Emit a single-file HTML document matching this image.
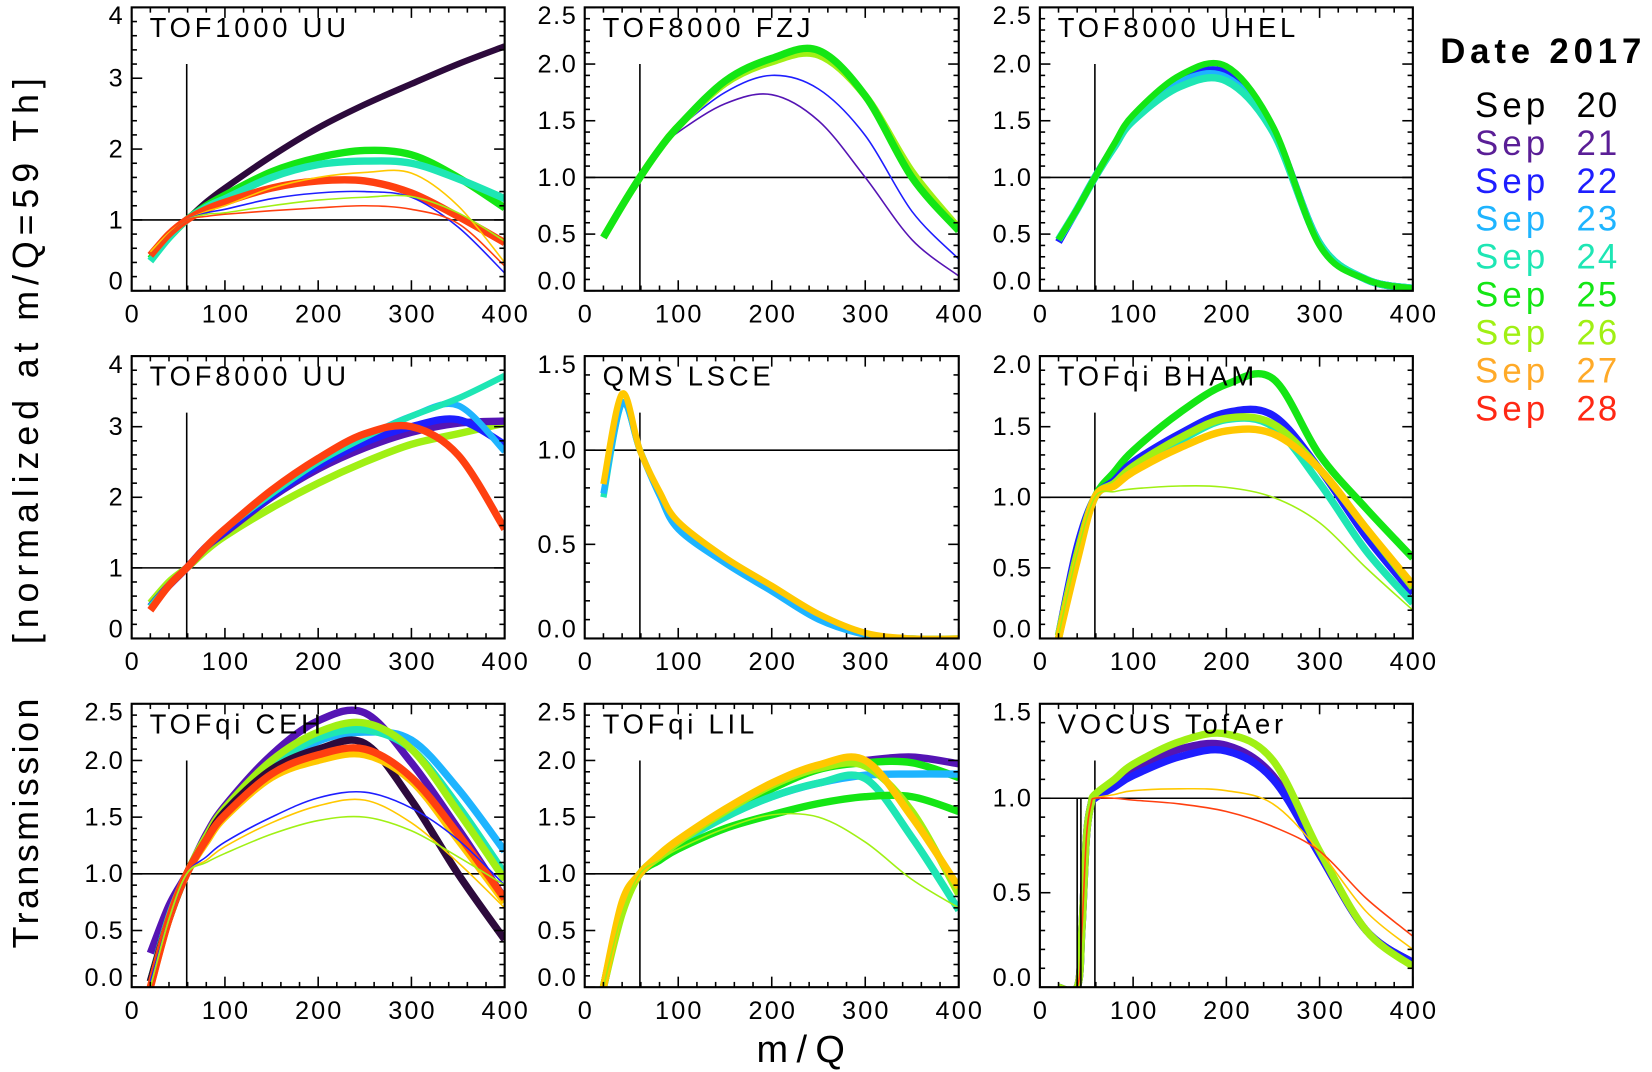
<!DOCTYPE html>
<html><head><meta charset="utf-8"><style>
html,body{margin:0;padding:0;background:#fff;}
svg{display:block;}
text{font-family:"Liberation Sans",sans-serif;fill:#000;}
</style></head>
<body>
<svg id="chart" width="1652" height="1072" viewBox="0 0 1568 1017.5" preserveAspectRatio="none" xmlns="http://www.w3.org/2000/svg">
<rect x="0" y="0" width="1568" height="1017.5" fill="#fff"/>
<text x="0" y="0" transform="translate(36,340) rotate(-90)" text-anchor="middle" font-size="34" letter-spacing="5.6">[normalized at m/Q=59 Th]</text>
<text x="0" y="0" transform="translate(36,780) rotate(-90)" text-anchor="middle" font-size="34" letter-spacing="3.3">Transmission</text>
<text x="764" y="1008" text-anchor="middle" font-size="36" letter-spacing="8">m/Q</text>
<g id="legend"></g>
<g id="panels"></g>
</svg>
<script>
const DATE_COLORS = {20:'#2d0a3c',21:'#5514b4',22:'#1e1eff',23:'#1eb4ff',24:'#1ee6b4',25:'#14e614',26:'#a0f014',27:'#ffc800',28:'#ff4010'};
const LEGEND_DATES = [20,21,22,23,24,25,26,27,28];
const LEGEND_COLORS = ['#000000','#5a1e96','#1e1eff','#1eb4ff','#1ee6b4','#14e614','#a0f014','#ffaa28','#ff2814'];
const TITLES = ['TOF1000 UU','TOF8000 FZJ','TOF8000 UHEL','TOF8000 UU','QMS LSCE','TOFqi BHAM','TOFqi CEH','TOFqi LIL','VOCUS TofAer'];
const YMAX = [4,2.5,2.5,4,1.5,2.0,2.5,2.5,1.5];
const YMAJOR = [1,0.5,0.5,1,0.5,0.5,0.5,0.5,0.5];
const YMINOR = [0.2,0.1,0.1,0.2,0.1,0.1,0.1,0.1,0.1];
const YDEC = [0,1,1,0,1,1,1,1,1];
const X_TICKS = [0,100,200,300,400];
const XG = [20,40,59,80,100,150,200,250,300,350,400];

const P1_D = [20,25,24,28,27,22,26,28];
const P1_W = [6,7,7,7,1.5,1.5,1.5,1.5];
const P1_Y = [
 [0.5,0.78,1.0,1.25,1.45,1.9,2.3,2.63,2.92,3.2,3.45],
 [0.45,0.75,1.0,1.2,1.35,1.68,1.88,1.98,1.92,1.6,1.17],
 [0.42,0.75,1.0,1.18,1.3,1.6,1.78,1.83,1.8,1.58,1.3],
 [0.5,0.8,1.0,1.15,1.25,1.45,1.55,1.55,1.38,1.05,0.68],
 [0.55,0.82,1.0,1.12,1.2,1.45,1.6,1.67,1.66,1.2,0.4],
 [0.5,0.8,1.0,1.1,1.15,1.3,1.38,1.4,1.32,0.9,0.25],
 [0.5,0.8,1.0,1.08,1.1,1.2,1.28,1.32,1.33,1.1,0.7],
 [0.5,0.8,1.0,1.05,1.08,1.13,1.17,1.2,1.15,0.95,0.35]];
const P2_D = [21,22,26,25];
const P2_W = [1.5,1.5,7,7];
const P2_Y = [
 [0.47,0.75,1.0,1.25,1.4,1.65,1.73,1.5,1.0,0.45,0.13],
 [0.47,0.75,1.0,1.25,1.43,1.75,1.9,1.78,1.37,0.7,0.28],
 [0.47,0.75,1.0,1.25,1.45,1.83,2.02,2.08,1.72,1.05,0.55],
 [0.47,0.75,1.0,1.25,1.45,1.85,2.05,2.12,1.72,1.0,0.53]];
const P3_D = [22,23,24,25];
const P3_W = [7,7,7,6];
const P3_Y = [
 [0.43,0.72,1.0,1.28,1.52,1.85,1.92,1.42,0.42,0.1,0.02],
 [0.45,0.72,1.0,1.28,1.52,1.84,1.88,1.41,0.42,0.1,0.02],
 [0.45,0.72,1.0,1.27,1.5,1.8,1.85,1.4,0.42,0.1,0.02],
 [0.45,0.72,1.0,1.3,1.55,1.9,1.98,1.45,0.4,0.1,0.02]];
const P4_D = [26,21,22,23,24,28];
const P4_W = [7,7,7,6,6,7];
const P4_Y = [
 [0.5,0.8,1.0,1.25,1.45,1.85,2.2,2.5,2.75,2.9,3.05],
 [0.45,0.75,1.0,1.3,1.5,2.0,2.4,2.7,2.92,3.05,3.08],
 [0.45,0.75,1.0,1.3,1.52,2.02,2.45,2.78,3.0,3.1,2.75],
 [0.45,0.75,1.0,1.3,1.55,2.05,2.5,2.85,3.15,3.3,2.65],
 [0.45,0.75,1.0,1.3,1.55,2.05,2.5,2.85,3.15,3.4,3.72],
 [0.4,0.75,1.0,1.3,1.55,2.1,2.55,2.9,3.0,2.6,1.55]];
const P5_D = [24,23,27];
const P5_W = [6,6,6];
const P5_Y = [
 [0.75,1.25,1.0,0.77,0.6,0.41,0.26,0.11,0.02,0.0,0.0],
 [0.77,1.25,1.0,0.76,0.58,0.4,0.25,0.1,0.02,0.0,-0.01],
 [0.82,1.3,1.0,0.78,0.62,0.43,0.28,0.13,0.03,0.0,0.0]];
const P6_D = [25,22,24,26,27,26];
const P6_W = [7,7,7,7,7,1.5];
const P6_Y = [
 [0.0,0.6,1.0,1.18,1.33,1.6,1.8,1.84,1.3,0.92,0.57],
 [0.02,0.65,1.0,1.12,1.25,1.45,1.6,1.58,1.2,0.72,0.32],
 [0.02,0.6,1.0,1.1,1.2,1.4,1.55,1.5,1.1,0.62,0.25],
 [0.02,0.6,1.0,1.1,1.22,1.42,1.56,1.52,1.2,0.78,0.36],
 [0.0,0.55,1.0,1.08,1.18,1.35,1.47,1.45,1.2,0.78,0.38],
 [0.02,0.6,1.0,1.04,1.06,1.08,1.07,1.0,0.82,0.5,0.2]];
const P7_D = [21,23,24,26,20,27,28,22,27,26];
const P7_W = [7,7,7,7,7,7,7,1.5,1.5,1.5];
const P7_Y = [
 [0.3,0.72,1.0,1.35,1.6,2.05,2.35,2.42,1.98,1.4,0.78],
 [0.05,0.6,1.0,1.3,1.52,1.92,2.17,2.25,2.18,1.75,1.2],
 [0.05,0.62,1.0,1.32,1.55,1.95,2.2,2.27,2.1,1.6,1.0],
 [0.05,0.6,1.0,1.33,1.58,2.0,2.25,2.33,2.1,1.55,0.95],
 [0.05,0.6,1.0,1.3,1.55,1.92,2.1,2.15,1.65,1.0,0.42],
 [0.0,0.6,1.0,1.28,1.5,1.85,2.0,2.05,1.82,1.3,0.75],
 [0.0,0.6,1.0,1.3,1.52,1.88,2.05,2.1,1.85,1.35,0.78],
 [0.05,0.6,1.0,1.15,1.28,1.5,1.67,1.72,1.58,1.3,0.9],
 [0.0,0.6,1.0,1.12,1.24,1.45,1.6,1.65,1.45,1.1,0.7],
 [0.0,0.6,1.0,1.1,1.18,1.35,1.47,1.5,1.38,1.15,0.9]];
const P8_D = [21,25,23,24,25,26,27,26];
const P8_W = [7,7,7,7,7,7,7,1.5];
const P8_Y = [
 [0,0.7,1.0,1.15,1.28,1.55,1.78,1.95,2.0,2.03,1.97],
 [0,0.7,1.0,1.15,1.28,1.53,1.75,1.92,1.98,1.98,1.85],
 [0,0.7,1.0,1.15,1.27,1.5,1.68,1.8,1.87,1.88,1.88],
 [0,0.7,1.0,1.15,1.27,1.5,1.68,1.8,1.84,1.32,0.68],
 [0,0.7,1.0,1.12,1.22,1.4,1.52,1.62,1.68,1.68,1.55],
 [0,0.65,1.0,1.15,1.28,1.55,1.78,1.93,1.95,1.55,0.82],
 [0,0.75,1.0,1.17,1.3,1.57,1.8,1.96,2.0,1.5,0.88],
 [0,0.65,1.0,1.12,1.22,1.4,1.52,1.5,1.28,0.95,0.7]];
const P9_X = [20,40,45,50,55,59,80,100,150,200,250,300,350,400];
const P9_D = [21,22,26,27,28];
const P9_W = [7,7,7,1.5,1.5];
const P9_Y = [
 [0,0,0.3,0.8,0.97,1.0,1.08,1.15,1.26,1.28,1.12,0.7,0.3,0.13],
 [0,0,0.3,0.8,0.97,1.0,1.06,1.12,1.22,1.25,1.1,0.7,0.3,0.13],
 [0,0,0.3,0.8,0.97,1.02,1.1,1.18,1.3,1.34,1.2,0.72,0.3,0.11],
 [0,0,0.3,0.8,0.97,1.0,1.02,1.04,1.05,1.04,0.97,0.72,0.4,0.2],
 [0,0,0.3,0.8,0.97,1.0,1.0,0.99,0.97,0.93,0.85,0.72,0.47,0.27]];
const P9_BLACK_X = [40,40,44,44];
const P9_BLACK_Y = [0,1,1,0];

const PANEL_DATA = [
 [XG,P1_D,P1_W,P1_Y],[XG,P2_D,P2_W,P2_Y],[XG,P3_D,P3_W,P3_Y],
 [XG,P4_D,P4_W,P4_Y],[XG,P5_D,P5_W,P5_Y],[XG,P6_D,P6_W,P6_Y],
 [XG,P7_D,P7_W,P7_Y],[XG,P8_D,P8_W,P8_Y],[P9_X,P9_D,P9_W,P9_Y]];

const NS='http://www.w3.org/2000/svg';
const svg=document.getElementById('chart');
const panelsG=document.getElementById('panels');
const COLS=[[125,479],[555,910],[987,1341]];
const ROWS=[[7,276],[338,606],[668,937]];
function mk(tag,attrs,parent){const e=document.createElementNS(NS,tag);for(const k in attrs)e.setAttribute(k,attrs[k]);parent.appendChild(e);return e;}
function smoothPath(pts){
  let d='M'+pts[0][0].toFixed(2)+','+pts[0][1].toFixed(2);
  for(let i=0;i<pts.length-1;i++){
    const p0=pts[Math.max(0,i-1)],p1=pts[i],p2=pts[i+1],p3=pts[Math.min(pts.length-1,i+2)];
    const c1x=p1[0]+(p2[0]-p0[0])/6,c1y=p1[1]+(p2[1]-p0[1])/6;
    const c2x=p2[0]-(p3[0]-p1[0])/6,c2y=p2[1]-(p3[1]-p1[1])/6;
    d+=' C'+c1x.toFixed(2)+','+c1y.toFixed(2)+' '+c2x.toFixed(2)+','+c2y.toFixed(2)+' '+p2[0].toFixed(2)+','+p2[1].toFixed(2);
  }
  return d;
}
for(let p=0;p<9;p++){
  const [x0,x1]=COLS[p%3],[y0,y1]=ROWS[Math.floor(p/3)];
  const ymax=YMAX[p];
  const sx=v=>x0+(v/400)*(x1-x0);
  const sy=v=>y1-(v/ymax)*(y1-y0);
  const g=mk('g',{},panelsG);
  
  
  const cp=mk('clipPath',{id:'clip'+p},g);
  mk('rect',{x:x0,y:y0,width:x1-x0,height:y1-y0},cp);
  const hl=mk('line',{x1:x0,x2:x1,y1:sy(1),y2:sy(1),stroke:'#000','stroke-width':1.5},g);
  
  
  const vl=mk('line',{x1:sx(59),x2:sx(59),y1:y1,y2:y1-0.8*(y1-y0),stroke:'#000','stroke-width':1.5},g);
  
  
  const [X,D,W,Y]=PANEL_DATA[p];
  const sg=mk('g',{'clip-path':'url(#clip'+p+')'},g);
  for(let s=0;s<Y.length;s++){
    const pts=X.map((xv,i)=>[sx(xv),sy(Y[s][i])]);
    const path=mk('path',{d:smoothPath(pts),fill:'none',stroke:DATE_COLORS[D[s]],'stroke-width':W[s],'stroke-linejoin':'round'},sg);
    
    
  }
  if(p===8){
    const pts=P9_BLACK_X.map((xv,i)=>sx(xv).toFixed(2)+','+sy(P9_BLACK_Y[i]).toFixed(2)).join(' ');
    const bl=mk('polyline',{points:pts,fill:'none',stroke:'#000','stroke-width':1.5},sg);
    
    
  }
  const fr=mk('rect',{x:x0,y:y0,width:x1-x0,height:y1-y0,fill:'none',stroke:'#000','stroke-width':2},g);
  
  
  for(let v=0;v<=400;v+=20){
    const L=(v%100===0)?10:5;
    mk('line',{x1:sx(v),x2:sx(v),y1:y1,y2:y1-L,stroke:'#000','stroke-width':1.5},g);
    mk('line',{x1:sx(v),x2:sx(v),y1:y0,y2:y0+L,stroke:'#000','stroke-width':1.5},g);
  }
  X_TICKS.forEach(v=>{
    const t=mk('text',{x:sx(v)+1,y:y1+30,'text-anchor':'middle','font-size':24,'letter-spacing':2},g);
    t.textContent=String(v);
    
    
  });
  const nmin=Math.round(ymax/YMINOR[p]);
  const ratio=Math.round(YMAJOR[p]/YMINOR[p]);
  for(let i=0;i<=nmin;i++){
    const v=i*YMINOR[p];const L=(i%ratio===0)?10:5;
    mk('line',{x1:x0,x2:x0+L,y1:sy(v),y2:sy(v),stroke:'#000','stroke-width':1.5},g);
    mk('line',{x1:x1,x2:x1-L,y1:sy(v),y2:sy(v),stroke:'#000','stroke-width':1.5},g);
  }
  const nmaj=Math.round(ymax/YMAJOR[p]);
  for(let i=0;i<=nmaj;i++){
    const v=i*YMAJOR[p];
    let cy=sy(v);cy=Math.max(y0+8,Math.min(y1-9,cy));
    const t=mk('text',{x:x0-7,y:cy+8,'text-anchor':'end','font-size':24,'letter-spacing':1.5},g);
    t.textContent=v.toFixed(YDEC[p]);
    
    
  }
  const tt=mk('text',{x:x0+17,y:y0+28,'font-size':26,'letter-spacing':3.6},g);
  tt.textContent=TITLES[p];
  
  
}
const lg=document.getElementById('legend');
const lt=mk('text',{x:1367,y:60,'font-size':33,'font-weight':'bold','letter-spacing':4.6},lg);
lt.textContent='Date 2017';


LEGEND_DATES.forEach((d,i)=>{
  const y=111+i*36;
  const a=mk('text',{x:1400,y:y,'font-size':33,'letter-spacing':4},lg);
  a.setAttribute('style','fill:'+LEGEND_COLORS[i]);
  a.textContent='Sep';
  
  
  const b=mk('text',{x:1537,y:y,'font-size':33,'text-anchor':'end','letter-spacing':2},lg);
  b.setAttribute('style','fill:'+LEGEND_COLORS[i]);
  b.textContent=String(d);
  
  
});
</script>
</body></html>
